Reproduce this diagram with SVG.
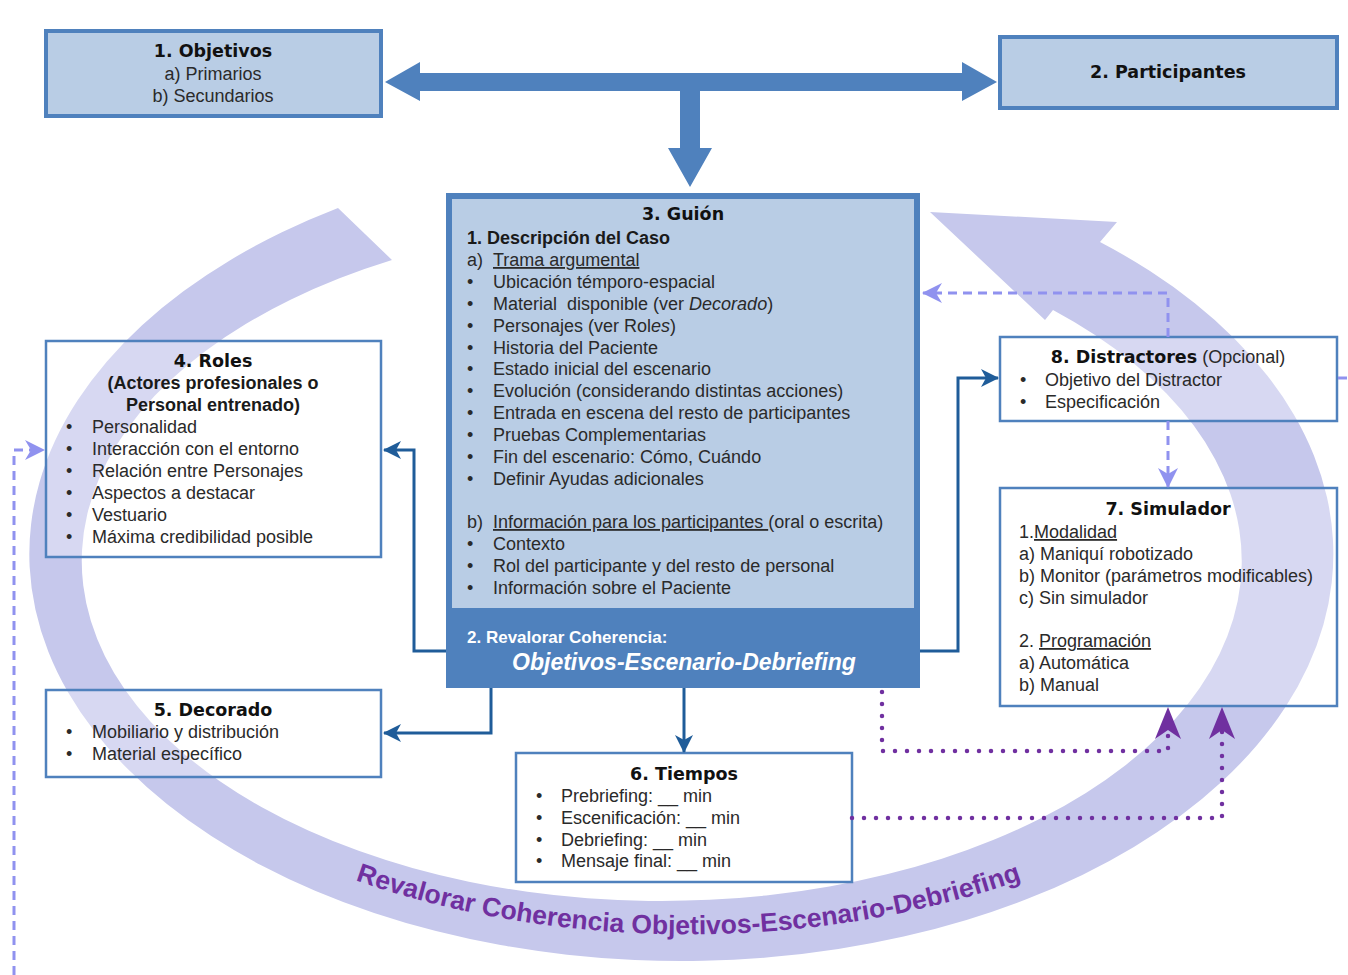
<svg xmlns="http://www.w3.org/2000/svg" width="1348" height="975" viewBox="0 0 1348 975">
<style>
.t{font-family:"Liberation Sans",Arial,sans-serif;font-size:18px;fill:#2a2a2a}
.h{font-family:"DejaVu Sans",sans-serif;font-weight:bold;font-size:17.5px;fill:#111}
.b{font-family:"Liberation Sans",Arial,sans-serif;font-weight:bold;font-size:18px;fill:#1a1a1a}
.u{text-decoration:underline}
.i{font-style:italic}
.arc{font-family:"Liberation Sans",Arial,sans-serif;font-weight:bold;font-size:26.5px;fill:#7030a0}
.box{fill:#ffffff;fill-opacity:0.3;stroke:#4f81bd;stroke-width:2.5}
.lbox{fill:#b9cde5;stroke:#4f81bd;stroke-width:4}
.blue{fill:none;stroke:#1f5c99;stroke-width:3}
.dash{fill:none;stroke:#9092ef;stroke-width:3;stroke-dasharray:9 6}
.dot{fill:none;stroke:#7030a0;stroke-width:4.5;stroke-linecap:round;stroke-dasharray:0 12}
</style>
<defs>
<marker id="mb" markerUnits="userSpaceOnUse" viewBox="0 0 18 18" markerWidth="18" markerHeight="18" refX="17" refY="9" orient="auto"><path d="M0,0 L18,9 L0,18 L5,9 Z" fill="#1f5c99"/></marker>
<marker id="ml" markerUnits="userSpaceOnUse" viewBox="0 0 20 20" markerWidth="20" markerHeight="20" refX="19" refY="10" orient="auto"><path d="M0,0 L20,10 L0,20 L6,10 Z" fill="#9092ef"/></marker>
<marker id="mp" markerUnits="userSpaceOnUse" viewBox="0 0 32 26" markerWidth="32" markerHeight="26" refX="31" refY="13" orient="auto"><path d="M0,0 L32,13 L0,26 L9,13 Z" fill="#7030a0"/></marker>
<path id="arcText" d="M 250,834 A 650,384 0 0 0 1126,834"/>
</defs>
<rect width="1348" height="975" fill="#ffffff"/>

<g id="cycle">
<path d="M 338,208 A 652,407 0 1 0 1100,242 L 1117,222 L 930,212 L 1045,320 L 1053,310 A 580,340 0 1 1 392,260 Z" fill="#c6c8ec"/>
<text class="arc"><textPath href="#arcText" startOffset="115.5">Revalorar</textPath></text>
<text class="arc"><textPath href="#arcText" startOffset="245.1">Coherencia</textPath></text>
<text class="arc"><textPath href="#arcText" startOffset="396.8">Objetivos-</textPath></text>
<text class="arc"><textPath href="#arcText" startOffset="526.4">Escenario-</textPath></text>
<text class="arc"><textPath href="#arcText" startOffset="661.9">Debriefing</textPath></text>
</g>

<g id="topArrow">
<path d="M 385,82 L 420,62 L 420,73 L 962,73 L 962,62 L 997,82 L 962,101 L 962,91 L 700,91 L 700,148 L 712,148 L 690,187 L 668,148 L 680,148 L 680,91 L 420,91 L 420,101 Z" fill="#4f81bd"/>
</g>

<g id="n1">
<rect class="lbox" x="46" y="31" width="335" height="85"/>
<text class="h" x="213" y="57" text-anchor="middle">1. Objetivos</text>
<text class="t" x="213" y="80" text-anchor="middle">a) Primarios</text>
<text class="t" x="213" y="102" text-anchor="middle">b) Secundarios</text>
</g>

<g id="n2">
<rect class="lbox" x="1000" y="37" width="337" height="71"/>
<text class="h" x="1168" y="78" text-anchor="middle">2. Participantes</text>
</g>

<g id="n3">
<rect x="446" y="193" width="474" height="495" fill="#4f81bd"/>
<rect x="452" y="199" width="462" height="409" fill="#b9cde5"/>
<text class="h" x="683" y="220" text-anchor="middle">3. Guión</text>
<text class="b" x="467" y="244">1. Descripción del Caso</text>
<text class="t" x="467" y="266">a)</text><text class="t u" x="493" y="266">Trama argumental</text>
<g class="t">
<text x="467" y="288">•</text><text x="493" y="288">Ubicación témporo-espacial</text>
<text x="467" y="310">•</text><text x="493" y="310" xml:space="preserve">Material  disponible (ver <tspan class="i">Decorado</tspan>)</text>
<text x="467" y="332">•</text><text x="493" y="332">Personajes (ver Rol<tspan class="i">es</tspan>)</text>
<text x="467" y="354">•</text><text x="493" y="354">Historia del Paciente</text>
<text x="467" y="375">•</text><text x="493" y="375">Estado inicial del escenario</text>
<text x="467" y="397">•</text><text x="493" y="397">Evolución (considerando distintas acciones)</text>
<text x="467" y="419">•</text><text x="493" y="419">Entrada en escena del resto de participantes</text>
<text x="467" y="441">•</text><text x="493" y="441">Pruebas Complementarias</text>
<text x="467" y="463">•</text><text x="493" y="463">Fin del escenario: Cómo, Cuándo</text>
<text x="467" y="485">•</text><text x="493" y="485">Definir Ayudas adicionales</text>
<text x="467" y="528">b)</text><text x="493" y="528" xml:space="preserve"><tspan class="u">Información para los participantes </tspan>(oral o escrita)</text>
<text x="467" y="550">•</text><text x="493" y="550">Contexto</text>
<text x="467" y="572">•</text><text x="493" y="572">Rol del participante y del resto de personal</text>
<text x="467" y="594">•</text><text x="493" y="594">Información sobre el Paciente</text>
</g>
<text x="467" y="643" font-family="Liberation Sans,Arial,sans-serif" font-weight="bold" font-size="17" fill="#ffffff">2. Revalorar Coherencia:</text>
<text x="684" y="670" text-anchor="middle" font-family="Liberation Sans,Arial,sans-serif" font-weight="bold" font-style="italic" font-size="23" fill="#ffffff">Objetivos-Escenario-Debriefing</text>
</g>

<g id="n4">
<rect class="box" x="46" y="341" width="335" height="216"/>
<text class="h" x="213" y="367" text-anchor="middle">4. Roles</text>
<text class="b" x="213" y="389" text-anchor="middle">(Actores profesionales o</text>
<text class="b" x="213" y="411" text-anchor="middle">Personal entrenado)</text>
<g class="t">
<text x="66" y="433">•</text><text x="92" y="433">Personalidad</text>
<text x="66" y="455">•</text><text x="92" y="455">Interacción con el entorno</text>
<text x="66" y="477">•</text><text x="92" y="477">Relación entre Personajes</text>
<text x="66" y="499">•</text><text x="92" y="499">Aspectos a destacar</text>
<text x="66" y="521">•</text><text x="92" y="521">Vestuario</text>
<text x="66" y="543">•</text><text x="92" y="543">Máxima credibilidad posible</text>
</g>
</g>

<g id="n5">
<rect class="box" x="46" y="690" width="335" height="87"/>
<text class="h" x="213" y="716" text-anchor="middle">5. Decorado</text>
<g class="t">
<text x="66" y="738">•</text><text x="92" y="738">Mobiliario y distribución</text>
<text x="66" y="760">•</text><text x="92" y="760">Material específico</text>
</g>
</g>

<g id="n6">
<rect class="box" x="516" y="753" width="336" height="129"/>
<text class="h" x="684" y="780" text-anchor="middle">6. Tiempos</text>
<g class="t">
<text x="536" y="802">•</text><text x="561" y="802">Prebriefing: __ min</text>
<text x="536" y="824">•</text><text x="561" y="824">Escenificación: __ min</text>
<text x="536" y="846">•</text><text x="561" y="846">Debriefing: __ min</text>
<text x="536" y="867">•</text><text x="561" y="867">Mensaje final: __ min</text>
</g>
</g>

<g id="n8">
<rect class="box" x="1000" y="337" width="337" height="84"/>
<text x="1168" y="363" text-anchor="middle"><tspan class="h">8. Distractores</tspan><tspan class="t"> (Opcional)</tspan></text>
<g class="t">
<text x="1020" y="386">•</text><text x="1045" y="386">Objetivo del Distractor</text>
<text x="1020" y="408">•</text><text x="1045" y="408">Especificación</text>
</g>
</g>

<g id="n7">
<rect class="box" x="1000" y="488" width="337" height="218"/>
<text class="h" x="1168" y="515" text-anchor="middle">7. Simulador</text>
<g class="t">
<text x="1019" y="538">1.<tspan class="u">Modalidad</tspan></text>
<text x="1019" y="560">a) Maniquí robotizado</text>
<text x="1019" y="582">b) Monitor (parámetros modificables)</text>
<text x="1019" y="604">c) Sin simulador</text>
<text x="1019" y="647">2. <tspan class="u">Programación</tspan></text>
<text x="1019" y="669">a) Automática</text>
<text x="1019" y="691">b) Manual</text>
</g>
</g>

<g id="connectors">
<path class="blue" d="M 446,651 H 414 V 450 H 384" marker-end="url(#mb)"/>
<path class="blue" d="M 491,688 V 733 H 384" marker-end="url(#mb)"/>
<path class="blue" d="M 684,688 V 752" marker-end="url(#mb)"/>
<path class="blue" d="M 920,651 H 958 V 378 H 998" marker-end="url(#mb)"/>
<path class="dash" d="M 1168,337 V 293 H 923" marker-end="url(#ml)"/>
<path class="dash" d="M 1168,421 V 487" marker-end="url(#ml)"/>
<path class="dash" d="M 14,975 V 450 H 44" marker-end="url(#ml)"/>
<path class="dash" d="M 1338,378 H 1348"/>
<path class="dot" d="M 882,692 V 751 H 1168 V 712"/>
<path d="M 1168,716 V 708" stroke="none" fill="none" marker-end="url(#mp)"/>
<path class="dot" d="M 852,818 H 1222 V 712"/>
<path d="M 1222,716 V 708" stroke="none" fill="none" marker-end="url(#mp)"/>
</g>
</svg>
